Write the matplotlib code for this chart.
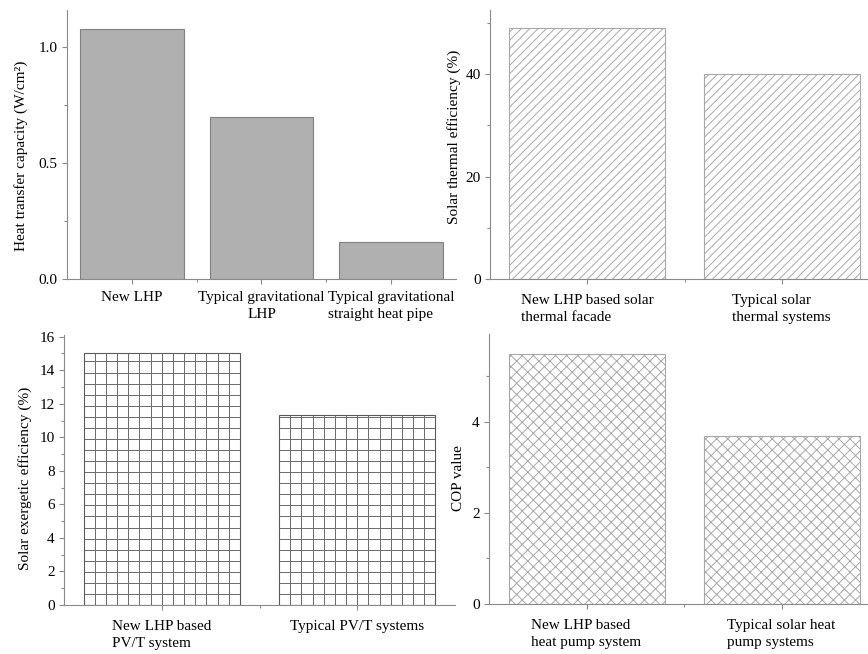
import matplotlib
matplotlib.use("Agg")
import numpy as np
import matplotlib.pyplot as plt
from matplotlib.ticker import MultipleLocator, FixedLocator, FormatStrFormatter

# data
hp_labels = ["New LHP", "Typical gravitational\nLHP", "Typical gravitational\nstraight heat pipe"]
hp_values = [1.08, 0.70, 0.16]

st_labels = ["New LHP based solar\nthermal facade", "Typical solar\nthermal systems"]
st_values = [49, 40]

ex_labels = ["New LHP based\nPV/T system", "Typical PV/T systems"]
ex_values = [15.0, 11.3]

cop_labels = ["New LHP based\nheat pump system", "Typical solar heat\npump systems"]
cop_values = [5.5, 3.7]

plt.rcParams['font.family'] = ['Liberation Serif', 'DejaVu Serif']
plt.rcParams['font.size'] = 11
plt.rcParams['hatch.linewidth'] = 0.7

DPI = 100
W, H = 868, 654
fig = plt.figure(figsize=(W / DPI, H / DPI), dpi=DPI)


def make_ax(left, right, top, bottom):
    return fig.add_axes([left / W, 1 - bottom / H, (right - left) / W, (bottom - top) / H])


def style(ax, labels, ylim, major, minor, ylabel, lab_x, lab_y, aligns, pad):
    n = len(labels)
    ax.set_xlim(-0.5, n - 0.5)
    ax.set_ylim(*ylim)
    for s in ['top', 'right']:
        ax.spines[s].set_visible(False)
    for s in ['left', 'bottom']:
        ax.spines[s].set_color('#8a8a8a')
        ax.spines[s].set_linewidth(0.8)
    ax.set_xticks(range(n))
    ax.set_xticklabels(labels, linespacing=1.45)
    for t, a in zip(ax.get_xticklabels(), aligns):
        t.set_multialignment(a)
    ax.xaxis.set_minor_locator(FixedLocator([i + 0.5 for i in range(n - 1)]))
    ax.yaxis.set_major_locator(MultipleLocator(major))
    ax.yaxis.set_minor_locator(MultipleLocator(minor))
    ax.tick_params(which='major', length=3.6, width=0.8, color='#8a8a8a', pad=3)
    ax.tick_params(axis='x', which='major', pad=pad)
    ax.tick_params(which='minor', length=2.2, width=0.8, color='#8a8a8a')
    ax.set_ylabel(ylabel)
    ax.yaxis.set_label_coords(lab_x, lab_y)


# heat transfer capacity
ax1 = make_ax(67, 456, 10, 279)
ax1.bar(range(len(hp_values)), hp_values, width=0.8, color='#b0b0b0', edgecolor='#808080', linewidth=0.8)
style(ax1, hp_labels, (0, 1.16), 0.5, 0.25, "Heat transfer capacity (W/cm\u00b2)", -0.10, 0.457,
      ['center', 'center', 'left'], 5)
ax1.yaxis.set_major_formatter(FormatStrFormatter('%.1f'))

# solar thermal efficiency
ax2 = make_ax(490, 879, 10, 279)
ax2.bar(range(len(st_values)), st_values, width=0.8, color='white', edgecolor='#a8a8a8',
        linewidth=0.8, hatch='////')
style(ax2, st_labels, (0, 52.5), 20, 10, "Solar thermal efficiency (%)", -0.075, 0.53,
      ['left', 'left'], 7)

# solar exergetic efficiency, grid-filled bars
ax3 = make_ax(64, 455, 335, 605)
bars3 = ax3.bar(range(len(ex_values)), ex_values, width=0.8, color='white', edgecolor='#5a5a5a',
                linewidth=0.8)
for b in bars3:
    x0, w, h = b.get_x(), b.get_width(), b.get_height()
    xs = np.linspace(x0, x0 + w, 15)[1:-1]
    ys = np.arange(0, h, 0.66)[1:]
    vl = ax3.vlines(xs, 0, h, colors='#6a6a6a', linewidth=0.7)
    hl = ax3.hlines(ys, x0, x0 + w, colors='#6a6a6a', linewidth=0.7)
    vl.set_clip_path(b)
    hl.set_clip_path(b)
style(ax3, ex_labels, (0, 16.1), 2, 1, "Solar exergetic efficiency (%)", -0.082, 0.47,
      ['left', 'left'], 7)

# COP
ax4 = make_ax(489, 879, 334, 604)
ax4.bar(range(len(cop_values)), cop_values, width=0.8, color='white', edgecolor='#a8a8a8',
        linewidth=0.8, hatch='xxx')
style(ax4, cop_labels, (0, 5.93), 2, 1, "COP value", -0.0615, 0.467,
      ['left', 'left'], 7)

fig.savefig("out.png", dpi=DPI)
